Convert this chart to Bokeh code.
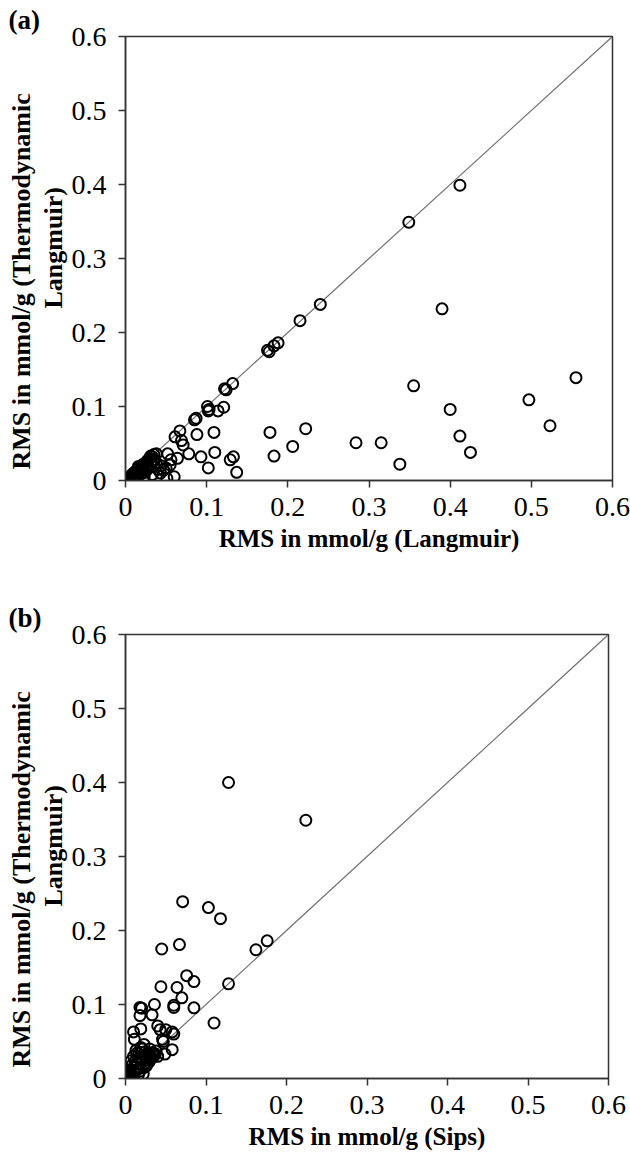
from bokeh.plotting import figure
from bokeh.layouts import column
from bokeh.models import FixedTicker, Title
from bokeh.embed import file_html
from bokeh.resources import INLINE

# Panel (a): Langmuir vs Thermodynamic Langmuir
xa = [0.412, 0.349, 0.240, 0.215, 0.188, 0.183, 0.177, 0.175, 0.132, 0.124, 0.122,
      0.101, 0.102, 0.103, 0.114, 0.121, 0.087, 0.085, 0.067, 0.061, 0.088, 0.109,
      0.069, 0.071, 0.078, 0.064, 0.093, 0.110, 0.102, 0.129, 0.133, 0.137, 0.052,
      0.055, 0.050, 0.060, 0.051, 0.033, 0.035, 0.029, 0.027, 0.033, 0.035, 0.021,
      0.016, 0.023, 0.012, 0.006, 0.002, 0.000, 0.003, 0.005, 0.008, 0.010, 0.013,
      0.016, 0.020, 0.025, 0.030, 0.043, 0.047, 0.056, 0.031, 0.001, 0.004, 0.007,
      0.011, 0.018, 0.026, 0.038,
      0.004, 0.009, 0.014, 0.019, 0.024, 0.028, 0.032, 0.036, 0.038, 0.022, 0.027,
      0.018, 0.015, 0.012, 0.040, 0.044,
      0.390, 0.355, 0.555, 0.497, 0.400, 0.523, 0.412, 0.425, 0.178, 0.222, 0.206,
      0.183, 0.284, 0.315, 0.338]
ya = [0.399, 0.349, 0.238, 0.216, 0.186, 0.182, 0.174, 0.176, 0.131, 0.1225, 0.124,
      0.100, 0.094, 0.096, 0.094, 0.099, 0.084, 0.082, 0.067, 0.059, 0.062, 0.065,
      0.054, 0.048, 0.036, 0.030, 0.032, 0.038, 0.017, 0.028, 0.032, 0.011, 0.036,
      0.021, 0.017, 0.005, 0.003, 0.032, 0.035, 0.028, 0.025, 0.008, 0.019, 0.017,
      0.019, 0.005, 0.010, 0.005, 0.002, 0.000, 0.003, 0.004, 0.008, 0.010, 0.013,
      0.015, 0.020, 0.024, 0.030, 0.010, 0.014, 0.028, 0.033, 0.001, 0.002, 0.006,
      0.007, 0.012, 0.014, 0.024,
      0.001, 0.003, 0.006, 0.009, 0.011, 0.018, 0.022, 0.028, 0.036, 0.022, 0.027,
      0.018, 0.012, 0.004, 0.015, 0.020,
      0.232, 0.128, 0.139, 0.109, 0.096, 0.074, 0.060, 0.038, 0.065, 0.070, 0.046,
      0.033, 0.051, 0.051, 0.022]

# Panel (b): Sips vs Thermodynamic Langmuir
xb = [0.128, 0.224, 0.071, 0.103, 0.118, 0.067, 0.045, 0.176, 0.162, 0.076, 0.085,
      0.128, 0.044, 0.064, 0.070, 0.036, 0.060, 0.060, 0.085, 0.018, 0.020, 0.018,
      0.033, 0.110, 0.040, 0.043, 0.050, 0.019, 0.010, 0.011, 0.058, 0.060, 0.047,
      0.046, 0.058, 0.049, 0.023, 0.038, 0.007,
      0.015, 0.020, 0.025, 0.030, 0.020, 0.025, 0.015, 0.012, 0.010, 0.008, 0.005,
      0.003, 0.000, 0.002, 0.006, 0.018, 0.022, 0.028, 0.030, 0.033, 0.013, 0.004,
      0.001, 0.016, 0.026, 0.035, 0.029,
      0.008, 0.012, 0.017, 0.021, 0.024, 0.027, 0.031, 0.034, 0.010, 0.014, 0.019,
      0.023, 0.006, 0.003, 0.011, 0.016, 0.037, 0.040]
yb = [0.400, 0.349, 0.239, 0.231, 0.216, 0.181, 0.175, 0.186, 0.174, 0.139, 0.131,
      0.128, 0.124, 0.123, 0.109, 0.100, 0.099, 0.096, 0.0955, 0.096, 0.095, 0.085,
      0.086, 0.075, 0.071, 0.066, 0.066, 0.067, 0.063, 0.053, 0.063, 0.060, 0.050,
      0.053, 0.039, 0.033, 0.046, 0.037, 0.024,
      0.030, 0.035, 0.030, 0.032, 0.025, 0.020, 0.020, 0.015, 0.010, 0.005, 0.004,
      0.002, 0.000, 0.006, 0.012, 0.010, 0.006, 0.025, 0.040, 0.028, 0.038, 0.008,
      0.002, 0.013, 0.017, 0.030, 0.022,
      0.018, 0.024, 0.028, 0.040, 0.036, 0.033, 0.026, 0.035, 0.030, 0.034, 0.042,
      0.015, 0.010, 0.004, 0.008, 0.005, 0.033, 0.030]

ticks = [0, 0.1, 0.2, 0.3, 0.4, 0.5, 0.6]
tick_labels = {0: "0", 0.1: "0.1", 0.2: "0.2", 0.3: "0.3", 0.4: "0.4", 0.5: "0.5", 0.6: "0.6"}
diag = [0, 0.6]
ytitle_lines = ["RMS in mmol/g (Thermodynamic", "Langmuir)"]

FONT = "Liberation Serif"


def make_panel(xs, ys, xlabel, tag, fw, fh, left, top, right, bottom):
    p = figure(width=left + fw + right, height=top + fh + bottom,
               frame_width=fw, frame_height=fh,
               x_range=(0, 0.6), y_range=(0, 0.6),
               output_backend="svg", toolbar_location=None,
               min_border_left=left, min_border_right=right,
               min_border_top=top, min_border_bottom=bottom)
    p.background_fill_color = "white"
    p.border_fill_color = "white"
    p.outline_line_color = "#333333"
    p.outline_line_width = 1.5
    p.xgrid.visible = False
    p.ygrid.visible = False
    for ax in (p.xaxis[0], p.yaxis[0]):
        ax.ticker = FixedTicker(ticks=ticks)
        ax.major_label_overrides = tick_labels
        ax.minor_tick_line_color = None
        ax.major_tick_in = 0
        ax.major_tick_out = 7
        ax.axis_line_color = "#333333"
        ax.axis_line_width = 1.5
        ax.major_tick_line_color = "#333333"
        ax.major_tick_line_width = 1.5
        ax.major_label_text_font = FONT
        ax.major_label_text_font_size = "28px"
        ax.major_label_text_color = "black"
        ax.axis_label_text_font = FONT
        ax.axis_label_text_font_style = "bold"
        ax.axis_label_text_font_size = "25px"
        ax.axis_label_text_color = "black"
    p.xaxis.axis_label = xlabel
    p.xaxis.major_label_standoff = 10
    p.xaxis.axis_label_standoff = 6
    p.yaxis.major_label_standoff = 12
    p.yaxis.major_label_orientation = "horizontal"

    # two-line y title, drawn as two side titles (inner line first)
    t2 = Title(text=ytitle_lines[1], align="left", offset=172, standoff=2,
               text_font=FONT, text_font_style="bold", text_font_size="26px",
               text_color="black")
    p.add_layout(t2, "left")
    t1 = Title(text=ytitle_lines[0], align="left", offset=11, standoff=0,
               text_font=FONT, text_font_style="bold", text_font_size="26px",
               text_color="black")
    p.add_layout(t1, "left")

    t = Title(text=tag, align="left", offset=-117, standoff=4,
              text_font=FONT, text_font_style="bold", text_font_size="27px",
              text_color="black")
    p.add_layout(t, "above")

    p.line(diag, diag, line_color="#707070", line_width=1.2)
    p.scatter(xs, ys, marker="circle", size=11, fill_color=None,
              line_color="black", line_width=2)
    return p


pa = make_panel(xa, ya, "RMS in mmol/g (Langmuir)", "(a)", 487, 444, 125, 34, 18, 97)
pb = make_panel(xb, yb, "RMS in mmol/g (Sips)", "(b)", 483, 444, 123, 57, 24, 77)

layout = column(pa, pb, spacing=0)
open("out.html", "w").write(file_html(layout, INLINE))
